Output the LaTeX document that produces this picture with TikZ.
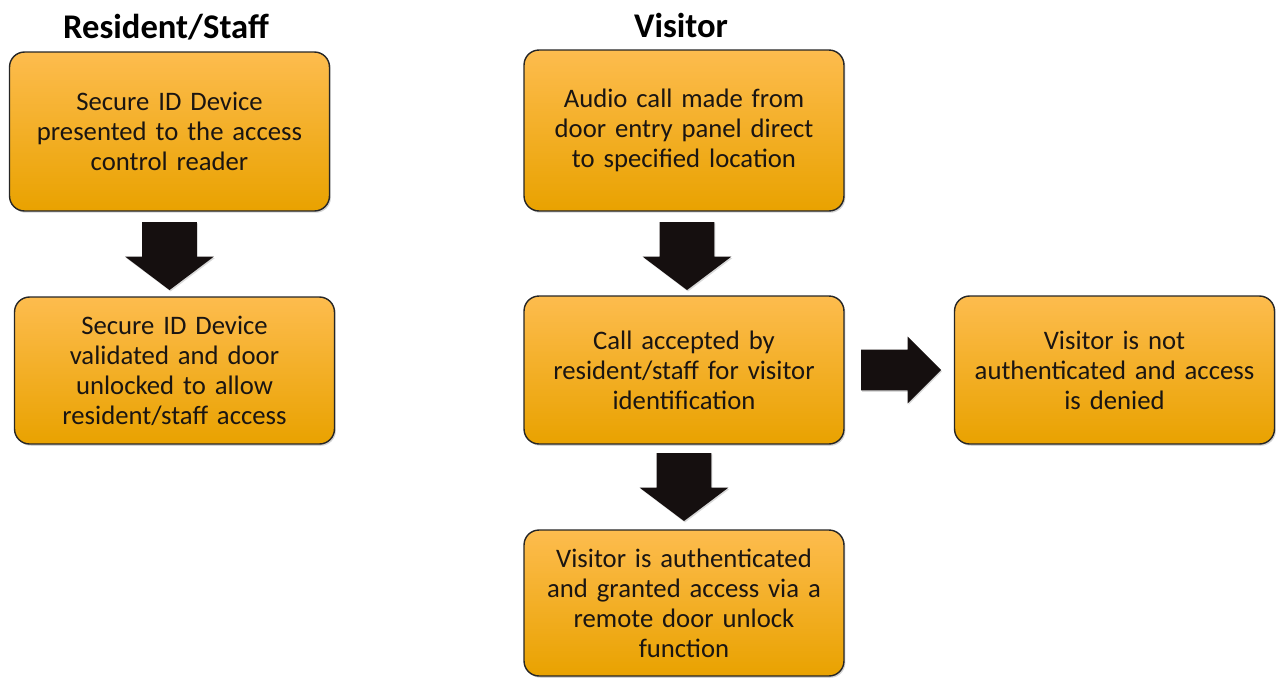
\documentclass[tikz,border=0pt]{standalone}
\usepackage{fontspec}
\setmainfont{Carlito}
\usetikzlibrary{shapes.arrows,positioning,calc,shadows}
\definecolor{boxtop}{HTML}{FDBC4E}
\definecolor{boxmid}{HTML}{FEB118}
\definecolor{boxbot}{HTML}{E9A200}
\definecolor{arrowblack}{HTML}{150F0F}
\definecolor{textblack}{HTML}{1A1512}

\tikzset{
  stepbox/.style={rectangle, rounded corners=0.3cm, draw=black!85, line width=0.8pt,
    top color=boxtop, middle color=boxmid, bottom color=boxbot,
    text width=6cm, minimum width=6.4cm, inner sep=0.2cm, align=center,
    text=textblack, font=\fontsize{15.2}{17.1}\selectfont,
    drop shadow={opacity=0.35, shadow xshift=0.8pt, shadow yshift=-1pt}},
  heading/.style={font=\fontsize{19.7}{22}\selectfont\bfseries, text=black},
  downarrow/.style={single arrow, fill=arrowblack, inner xsep=0pt, inner ysep=0.54cm,
    minimum height=1.36cm, single arrow head extend=0.34cm, single arrow tip angle=106,
    rotate=-90, anchor=tail,
    drop shadow={opacity=0.3, shadow xshift=0.6pt, shadow yshift=-0.8pt}},
  rightarrow/.style={single arrow, fill=arrowblack, inner xsep=0pt, inner ysep=0.4cm,
    minimum height=1.6cm, single arrow head extend=0.26cm, single arrow tip angle=90,
    anchor=tail,
    drop shadow={opacity=0.3, shadow xshift=0.6pt, shadow yshift=-0.8pt}}
}

\begin{document}
\begin{tikzpicture}[x=0.02cm, y=-0.02cm]
      \useasboundingbox (0,0) rectangle (1277,677);

      % Column headings
      \node[heading] (headres) at (166,27) {Resident/Staff};
      \node[heading] (headvis) at (681,25) {Visitor};

      % Resident/Staff column
      \node[stepbox, minimum height=3.18cm] (res1) at (169.5,131.5) {
        Secure ID Device\\
        presented to the access\\
        control reader
      };

      \node[stepbox, minimum height=2.94cm] (res2) at (174.5,370.5) {
        Secure ID Device\\
        validated and door\\
        unlocked to allow\\
        resident/staff access
      };

      % Visitor column
      \node[stepbox, minimum height=3.22cm] (vis1) at (684,130.5) {
        Audio call made from\\
        door entry panel direct\\
        to specified location
      };

      \node[stepbox, minimum height=2.96cm] (vis2) at (684,370) {
        Call accepted by\\
        resident/staff for visitor\\
        identification
      };

      \node[stepbox, minimum height=2.96cm] (denied) at (1114.5,370) {
        Visitor is not\\
        authenticated and access\\
        is denied
      };

      \node[stepbox, minimum height=2.92cm] (granted) at (684,603) {
        Visitor is authenticated\\
        and granted access via a\\
        remote door unlock\\
        function
      };

      % Block arrows between the steps
      \node[downarrow] (arr1) at ($(res1.south)+(0,10)$) {};
      \node[downarrow] (arr2) at ($(vis1.south)+(3,10)$) {};
      \node[downarrow] (arr3) at ($(vis2.south)+(0,8)$) {};
      \node[rightarrow] (arr4) at ($(vis2.east)+(16,0)$) {};
\end{tikzpicture}
\end{document}
